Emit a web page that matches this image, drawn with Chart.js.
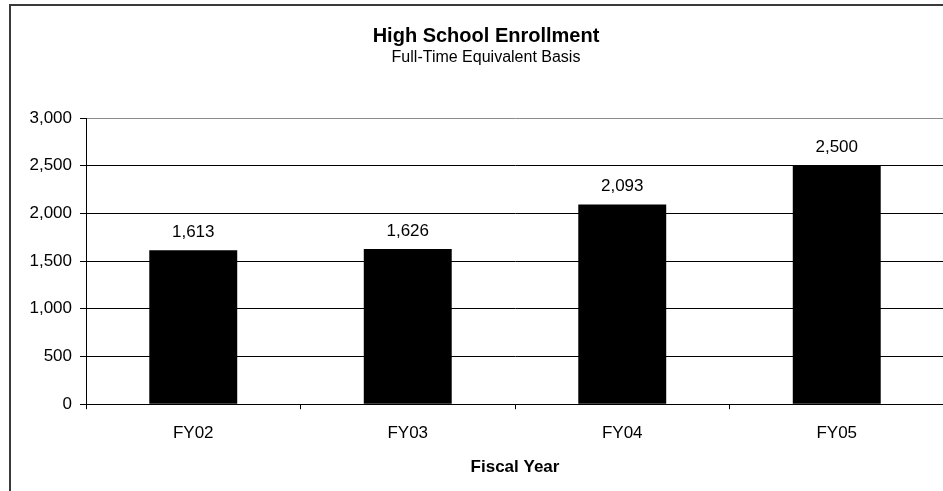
<!DOCTYPE html>
<html>
<head>
<meta charset="utf-8">
<script src="https://cdn.jsdelivr.net/npm/chart.js@4/dist/chart.umd.min.js"></script>
<style>
  html, body { margin: 0; padding: 0; background: #fff; overflow: hidden; width: 943px; height: 491px; }
  #wrap { position: absolute; left: 0; top: 0; width: 960px; height: 491px; }
  canvas { background: #fff; }
</style>
</head>
<body>
<div id="wrap"><canvas id="c" width="960" height="491"></canvas></div>
<script>
const categories = ['FY02', 'FY03', 'FY04', 'FY05'];
const enrollment = [1613, 1626, 2093, 2500];
const yTicks = [0, 500, 1000, 1500, 2000, 2500, 3000];

const FONT = "'Liberation Sans', Arial, Helvetica, sans-serif";
const fmt = v => Number(v).toLocaleString('en-US');

const frame = {
  id: 'frame',
  afterDraw(chart) {
    const ctx = chart.ctx;
    ctx.save();
    ctx.strokeStyle = '#3a3a3a';
    ctx.lineWidth = 2;
    ctx.beginPath();
    ctx.moveTo(10, 491);
    ctx.lineTo(10, 5);
    ctx.lineTo(chart.width, 5);
    ctx.stroke();
    ctx.restore();
  }
};

const valueLabels = {
  id: 'valueLabels',
  afterDatasetsDraw(chart) {
    const ctx = chart.ctx;
    const meta = chart.getDatasetMeta(0);
    ctx.save();
    ctx.font = '17px ' + FONT;
    ctx.fillStyle = '#000';
    ctx.textAlign = 'center';
    ctx.textBaseline = 'middle';
    meta.data.forEach((bar, i) => {
      ctx.fillText(fmt(chart.data.datasets[0].data[i]), bar.x, bar.y - 18);
    });
    ctx.restore();
  }
};

new Chart(document.getElementById('c'), {
  type: 'bar',
  data: {
    labels: categories,
    datasets: [{
      data: enrollment,
      backgroundColor: '#000',
      borderColor: '#000',
      borderWidth: 0,
      categoryPercentage: 1,
      barPercentage: 0.41
    }]
  },
  plugins: [frame, valueLabels],
  options: {
    responsive: false,
    animation: false,
    devicePixelRatio: 1,
    layout: { padding: { left: 28, right: 16, top: 0, bottom: 0 } },
    plugins: {
      legend: { display: false },
      tooltip: { enabled: false },
      title: {
        display: true,
        text: 'High School Enrollment',
        color: '#000',
        font: { family: FONT, size: 20, weight: 'bold', lineHeight: 0.7 },
        padding: { top: 29, bottom: 0 }
      },
      subtitle: {
        display: true,
        text: 'Full-Time Equivalent Basis',
        color: '#000',
        font: { family: FONT, size: 16 },
        padding: { top: 5.4, bottom: 50.4 }
      }
    },
    scales: {
      x: {
        grid: {
          display: true,
          offset: true,
          drawOnChartArea: false,
          drawTicks: true,
          tickLength: 5,
          tickColor: '#000'
        },
        border: { display: true, color: '#000', width: 1 },
        ticks: {
          color: '#000',
          font: { family: FONT, size: 17 },
          padding: 14,
          maxRotation: 0
        },
        title: {
          display: true,
          text: 'Fiscal Year',
          color: '#000',
          font: { family: FONT, size: 17, weight: 'bold' },
          padding: { top: 0, bottom: 13 }
        }
      },
      y: {
        min: 0,
        max: 3000,
        afterBuildTicks(scale) {
          scale.ticks = yTicks.map(v => ({ value: v }));
        },
        afterFit(scale) { scale.width = 58; },
        grid: {
          color: ctx => (ctx.tick && ctx.tick.value === 3000) ? '#8c8c8c' : '#000',
          lineWidth: 1,
          drawTicks: true,
          tickLength: 6,
          tickColor: '#000'
        },
        border: { display: true, color: '#000', width: 1 },
        ticks: {
          color: '#000',
          font: { family: FONT, size: 17 },
          padding: 8,
          callback: v => fmt(v)
        }
      }
    }
  }
});
</script>
</body>
</html>
